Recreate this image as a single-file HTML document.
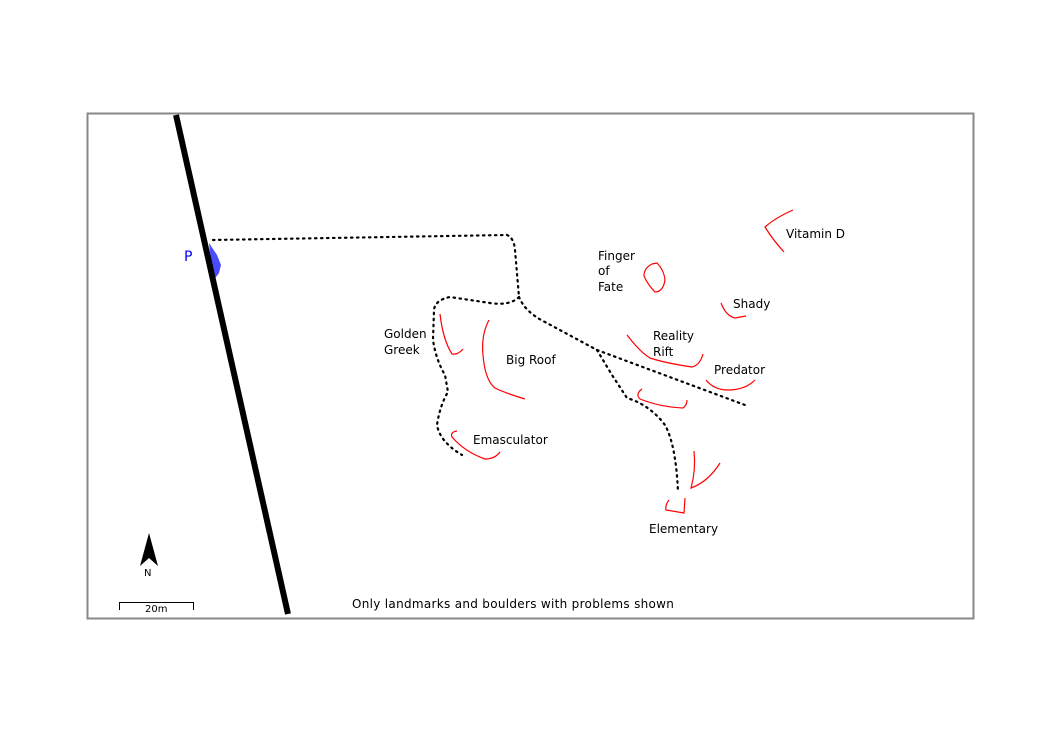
<!DOCTYPE html>
<html><head><style>body{margin:0;background:#fff}svg{display:block}text{font-family:"DejaVu Sans","Liberation Sans",sans-serif;font-size:12px;fill:#000}</style></head>
<body>
<svg width="1053" height="745" viewBox="0 0 1053 745" xmlns="http://www.w3.org/2000/svg">
<rect x="87.5" y="113.5" width="886" height="505" fill="#fff" stroke="#888" stroke-width="2"/>
<path d="M209,243 L217,255 L221,265 L219,273 L213,281 Z" fill="#4a4aff"/>
<line x1="176" y1="115" x2="288" y2="614" stroke="#000" stroke-width="6"/>
<text x="184" y="261" style="fill:#00f;font-size:14px">P</text>
<g fill="none" stroke="#000" stroke-width="2.2" stroke-dasharray="1.5 4.5" stroke-linecap="round">
<path d="M213,240 L507,235 Q514,238 515,250 L519,297"/>
<path d="M519,297 Q510,306 490,303 L450,297 Q435,300 434,310 L433,340 Q436,360 445,375 L448,392 Q440,405 437,425 Q440,442 462,455"/>
<path d="M519,297 Q525,312 545,322 L597,350 L745,405"/>
<path d="M597,350 L612,375 L627,398 Q650,405 665,425 Q676,445 678,492"/>
</g>
<g fill="none" stroke="#f00" stroke-width="1.2">
<path d="M793,210 Q775,218 765,227 Q773,240 784,252"/>
<path d="M657,263 Q664,270 665,280 Q663,292 655,292 Q648,285 644,276 Q644,268 652,264 Z"/>
<path d="M721,303 Q726,316 735,318 L746,316"/>
<path d="M627,335 Q640,352 650,358 Q665,363 692,367 Q700,365 703,354"/>
<path d="M706,380 Q714,390 728,390 Q745,390 755,380"/>
<path d="M642,389 Q635,394 640,399 Q660,407 683,408 Q687,405 687,400"/>
<path d="M694,451 Q696,470 691,488 Q708,482 720,463"/>
<path d="M669,500 Q665,505 666,510 L684,513 L685,498"/>
<path d="M440,314 Q443,340 452,354 Q458,355 463,349"/>
<path d="M489,320 Q481,335 483,355 Q485,380 495,388 Q505,393 525,399"/>
<path d="M457,431 Q450,432 452,437 Q465,452 485,459 Q495,459 500,452"/>
</g>
<text x="786" y="238">Vitamin D</text>
<text x="598" y="260">Finger</text>
<text x="598" y="275">of</text>
<text x="598" y="291">Fate</text>
<text x="733" y="308">Shady</text>
<text x="653" y="340">Reality</text>
<text x="653" y="356">Rift</text>
<text x="714" y="374">Predator</text>
<text x="384" y="338">Golden</text>
<text x="384" y="354">Greek</text>
<text x="506" y="364">Big Roof</text>
<text x="473" y="444">Emasculator</text>
<text x="649" y="533">Elementary</text>
<text x="352" y="608" style="letter-spacing:0.3px">Only landmarks and boulders with problems shown</text>
<path d="M149,533 L158,566 L149,558 L140,566 Z" fill="#000"/>
<text x="144" y="576" style="font-size:10px">N</text>
<path d="M119.5,610 V602.5 H193.5 V610" fill="none" stroke="#000" stroke-width="1"/>
<text x="145" y="612" style="font-size:10px">20m</text>
</svg>
</body></html>
